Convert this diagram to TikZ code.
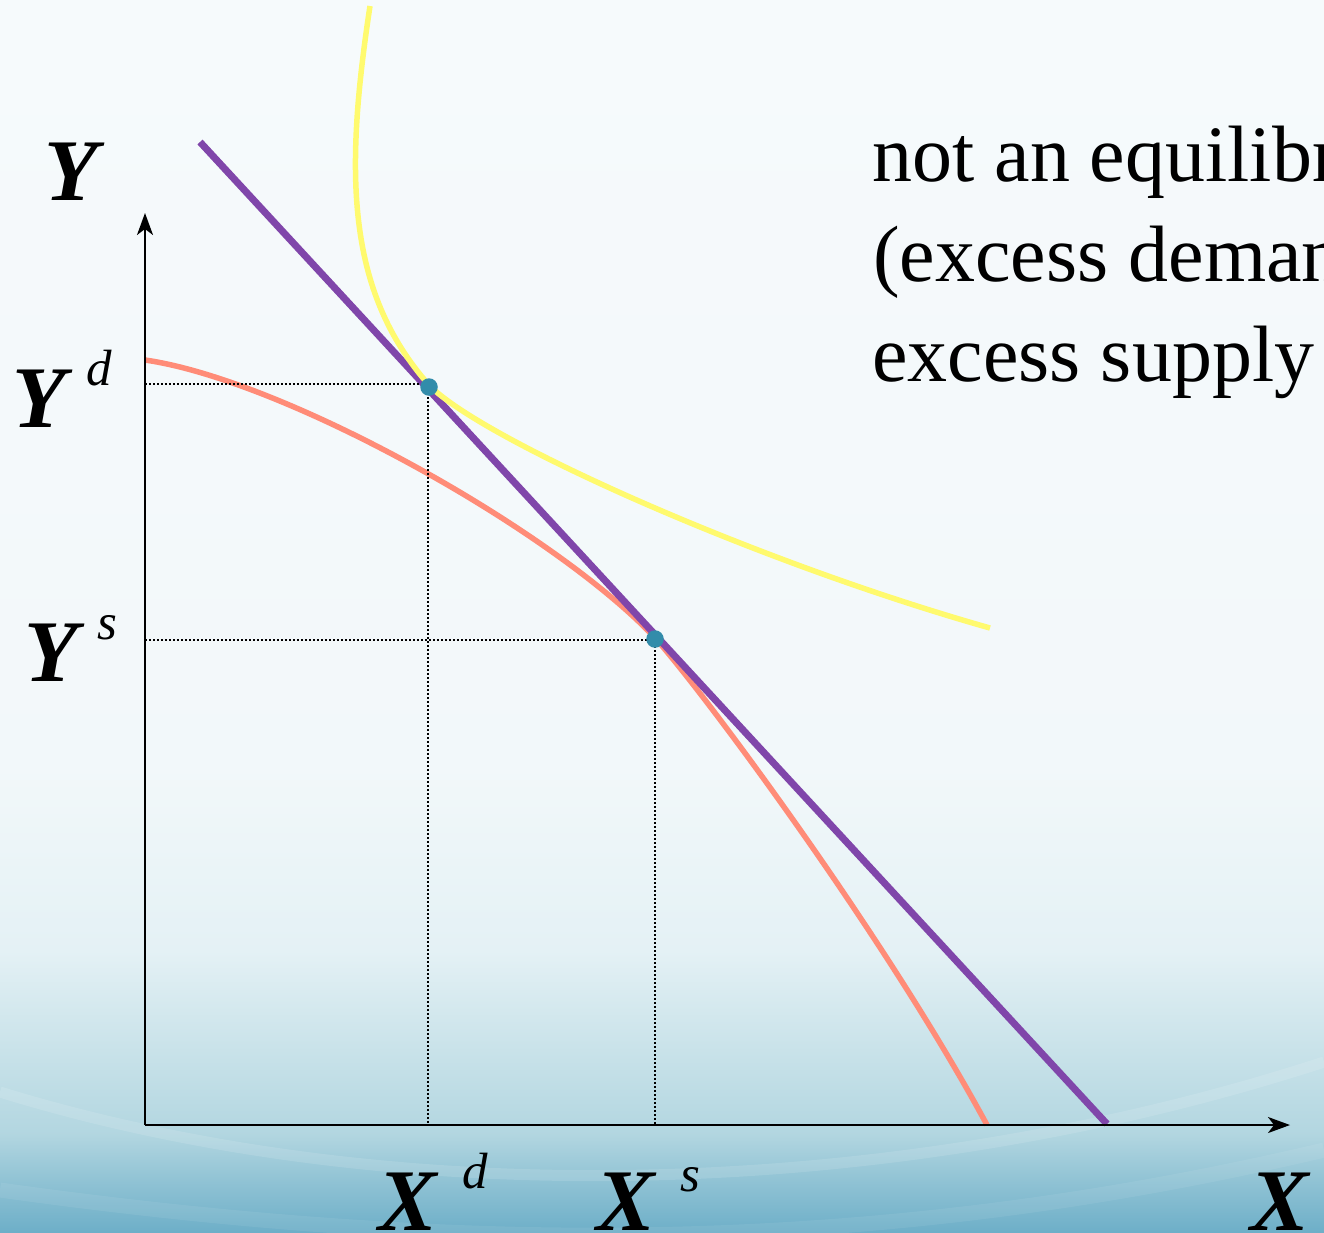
\documentclass[tikz,border=0pt]{standalone}
\usepackage{fontspec}
\setmainfont{Liberation Serif}
\usetikzlibrary{arrows.meta}
\definecolor{purp}{RGB}{128,70,170}
\definecolor{salmon}{RGB}{255,140,120}
\definecolor{yell}{RGB}{255,250,110}
\definecolor{teal}{RGB}{50,140,170}
% path is mapped onto 25bp..75bp of the shading: bottom of picture = 25bp, top = 75bp
\pgfdeclareverticalshading{bgshade}{100bp}{rgb(0bp)=(0.43,0.686,0.784); rgb(25bp)=(0.43,0.686,0.784); rgb(27bp)=(0.56,0.76,0.83); rgb(29bp)=(0.70,0.84,0.88); rgb(32.3bp)=(0.785,0.886,0.914); rgb(36.4bp)=(0.894,0.945,0.961); rgb(44bp)=(0.95,0.973,0.98); rgb(75bp)=(0.965,0.98,0.988); rgb(100bp)=(0.965,0.98,0.988)}
\tikzset{
  axis/.style={line width=0.04cm, -{Stealth[length=0.44cm,width=0.32cm,inset=0.12cm]}},
  guide/.style={line width=0.028cm, dash pattern=on 0.035cm off 0.045cm},
  budget/.style={purp, line width=0.14cm},
  ppf/.style={salmon, line width=0.11cm},
  indiff/.style={yell, line width=0.11cm},
  eqdot/.style={circle, fill=teal, inner sep=0pt, minimum size=0.35cm},
  biglbl/.style={inner sep=0pt, anchor=base west, font=\fontsize{50}{60}\selectfont\bfseries\itshape},
  suplbl/.style={inner sep=0pt, anchor=base west, font=\fontsize{29}{35}\selectfont\itshape},
  note/.style={inner sep=0pt, anchor=base west, font=\fontsize{45.5}{56}\selectfont}
}
\begin{document}
\begin{tikzpicture}[x=0.02cm, y=-0.02cm]
\useasboundingbox (0,0) rectangle (1324,1232);
\clip (0,0) rectangle (1324,1232);
\shade[shading=bgshade] (0,0) rectangle (1324,1232);
\draw[white, opacity=0.12, line width=0.22cm] (0,1092) .. controls (400,1215) and (900,1200) .. (1324,1062);
\draw[white, opacity=0.07, line width=0.3cm] (0,1190) .. controls (500,1260) and (900,1250) .. (1324,1150);

% coordinates
\coordinate (O) at (145,1125);
\coordinate (ytop) at (145,213);
\coordinate (xend) at (1290,1125);
\coordinate (yd) at (145,384);
\coordinate (xd) at (428,1125);
\coordinate (ys) at (145,640);
\coordinate (xs) at (655,1125);
\coordinate (bA) at (200,142);
\coordinate (bB) at (1107,1124);
\coordinate (pA) at (145,360);
\coordinate (pE) at (657,640);
\coordinate (pB) at (987,1125);
\coordinate (iA) at (370,6);
\coordinate (iE) at (429,385);
\coordinate (iB) at (990,628);

% production possibility frontier
\draw[ppf] (pA) .. controls (285,380) and (557,532) .. (pE)
                .. controls (715,707) and (890,945) .. (pB);
% budget line
\draw[budget] (bA) -- (bB);
% indifference curve
\draw[indiff] (iA) .. controls (345,170) and (345,290) .. (iE)
                   .. controls (480,438) and (750,560) .. (iB);

% guides
\draw[guide] (yd) -| (xd);
\draw[guide] (ys) -| (xs);

% axes
\draw[axis] (O) -- (ytop);
\draw[axis] (O) -- (xend);

% equilibrium points
\node[eqdot] (E1) at (429,387) {};
\node[eqdot] (E2) at (655,639) {};

% labels
\node[biglbl] (lY) at (44,200) {Y};
\node[biglbl] (lYd) at (12,427) {Y};
\node[suplbl] (lYdd) at (86,385) {d};
\node[biglbl] (lYs) at (24,681) {Y};
\node[suplbl] (lYss) at (97,639) {s};
\node[biglbl] (lXd) at (378,1230) {X};
\node[suplbl] (lXdd) at (462,1188) {d};
\node[biglbl] (lXs) at (596,1230) {X};
\node[suplbl] (lXss) at (680,1191) {s};
\node[biglbl] (lX) at (1250,1230) {X};

% note
\node[note] (t1) at (872,181) {not an equilibrium};
\node[note] (t2) at (873,281) {(excess demand};
\node[note] (t3) at (872,381) {excess supply};
\end{tikzpicture}
\end{document}
